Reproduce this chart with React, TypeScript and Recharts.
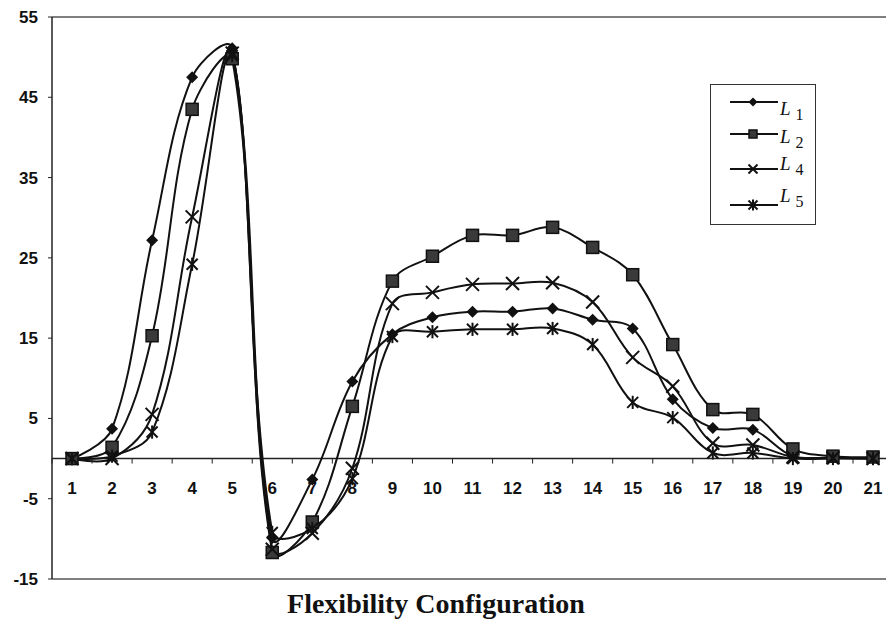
import React from 'react';
import {
  LineChart,
  Line,
  XAxis,
  YAxis,
  ReferenceLine,
  Legend,
} from 'recharts';

const configs = ['1', '2', '3', '4', '5', '6', '7', '8', '9', '10', '11', '12', '13', '14', '15', '16', '17', '18', '19', '20', '21'];
const l1 = [0, 3.7, 27.2, 47.5, 51.1, -9.9, -2.6, 9.6, 15.5, 17.6, 18.3, 18.3, 18.7, 17.3, 16.2, 7.4, 3.8, 3.6, 0.3, 0.1, 0];
const l2 = [0, 1.4, 15.3, 43.5, 49.8, -11.7, -7.9, 6.5, 22.1, 25.2, 27.8, 27.8, 28.8, 26.3, 22.9, 14.2, 6.1, 5.5, 1.2, 0.3, 0.2];
const l4 = [0, 0, 5.5, 30.1, 50.5, -11.3, -9.3, -1.2, 19.3, 20.7, 21.7, 21.8, 21.9, 19.5, 12.6, 9.0, 1.9, 1.7, 0.2, 0.1, 0];
const l5 = [0, 0.3, 3.3, 24.2, 50.2, -9.2, -8.7, -2.5, 15.2, 15.8, 16.1, 16.1, 16.2, 14.2, 7.0, 5.1, 0.7, 0.7, 0, 0, 0];
const yTicks = [-15, -5, 5, 15, 25, 35, 45, 55];
const seriesNames = { l1: '1', l2: '2', l4: '4', l5: '5' };

const data = configs.map((c, i) => ({ config: c, l1: l1[i], l2: l2[i], l4: l4[i], l5: l5[i] }));

// layout
const W = 900;
const H = 623;
const TOP = 17;
const BOTTOM = 43;
const X_AXIS_H = 1;
const PLOT_H = H - TOP - BOTTOM - X_AXIS_H;
const Y_MIN = -15;
const Y_MAX = 55;
const ZERO_Y = TOP + (PLOT_H * (Y_MAX - 0)) / (Y_MAX - Y_MIN);

const tickFont = { fontFamily: '"Liberation Sans", Arial, sans-serif', fontSize: 17, fontWeight: 'bold', fill: '#111' };

// Excel-like smoothed line: bezier arms scaled by neighbouring segment lengths
const excelCurve = (context: any) => {
  let pts: number[][] = [];
  const dist = (a: number[], b: number[]) => Math.hypot(b[0] - a[0], b[1] - a[1]) || 1;
  return {
    areaStart() {},
    areaEnd() {},
    lineStart() {
      pts = [];
    },
    lineEnd() {
      if (!pts.length) return;
      context.moveTo(pts[0][0], pts[0][1]);
      const k = 0.36;
      for (let i = 0; i < pts.length - 1; i++) {
        const p0 = pts[Math.max(0, i - 1)];
        const p1 = pts[i];
        const p2 = pts[i + 1];
        const p3 = pts[Math.min(pts.length - 1, i + 2)];
        const d01 = dist(p0, p1);
        const d12 = dist(p1, p2);
        const d23 = dist(p2, p3);
        const f1 = i === 0 ? 0 : (k * d12) / (d01 + d12);
        const f2 = i + 2 > pts.length - 1 ? 0 : (k * d12) / (d12 + d23);
        context.bezierCurveTo(
          p1[0] + (p2[0] - p0[0]) * f1,
          p1[1] + (p2[1] - p0[1]) * f1,
          p2[0] - (p3[0] - p1[0]) * f2,
          p2[1] - (p3[1] - p1[1]) * f2,
          p2[0],
          p2[1]
        );
      }
    },
    point(x: number, y: number) {
      pts.push([+x, +y]);
    },
  };
};

const Marker = ({ kind, cx, cy, s }: any) => {
  if (kind === 'l1') {
    return <polygon points={`${cx},${cy - s} ${cx + s},${cy} ${cx},${cy + s} ${cx - s},${cy}`} fill="#111" />;
  }
  if (kind === 'l2') {
    return <rect x={cx - s} y={cy - s} width={s * 2} height={s * 2} fill="#3a3a3a" stroke="#111" strokeWidth={1.5} />;
  }
  if (kind === 'l4') {
    return (
      <g stroke="#111" strokeWidth={2}>
        <line x1={cx - s} y1={cy - s} x2={cx + s} y2={cy + s} />
        <line x1={cx - s} y1={cy + s} x2={cx + s} y2={cy - s} />
      </g>
    );
  }
  return (
    <g stroke="#111" strokeWidth={2}>
      <line x1={cx - s} y1={cy - s} x2={cx + s} y2={cy + s} />
      <line x1={cx - s} y1={cy + s} x2={cx + s} y2={cy - s} />
      <line x1={cx} y1={cy - s * 1.2} x2={cx} y2={cy + s * 1.2} />
    </g>
  );
};

const makeDot = (kind: string, s: number) => (props: any) => {
  const { cx, cy, index } = props;
  if (cx == null || cy == null) return <g key={`${kind}-${index}`} />;
  return (
    <g key={`${kind}-${index}`}>
      <Marker kind={kind} cx={cx} cy={cy} s={s} />
    </g>
  );
};

const XTick = (props: any) => {
  const { x, payload, index } = props;
  return (
    <g>
      <line x1={x - 20} y1={ZERO_Y} x2={x - 20} y2={ZERO_Y + 5} stroke="#222" />
      {index === configs.length - 1 && <line x1={x + 20} y1={ZERO_Y} x2={x + 20} y2={ZERO_Y + 5} stroke="#222" />}
      <text x={x} y={ZERO_Y + 35} textAnchor="middle" {...tickFont}>
        {payload.value}
      </text>
    </g>
  );
};

const renderLegend = (props: any) => {
  const { payload } = props;
  const rows = [18, 50, 85, 121];
  return (
    <svg width={106} height={141}>
      <rect x={0.5} y={0.5} width={105} height={140} fill="#fff" stroke="#333" strokeWidth={1} />
      {payload.map((entry: any, i: number) => {
        const key = entry.dataKey as string;
        const y = rows[i];
        const ty = key === 'l1' ? y + 13 : key === 'l2' ? y + 9 : key === 'l4' ? y + 1 : y - 3;
        return (
          <g key={key}>
            <line x1={20} y1={y} x2={68} y2={y} stroke="#111" strokeWidth={2} />
            <Marker kind={key} cx={43} cy={y} s={key === 'l2' ? 4 : 4.5} />
            <text x={70} y={ty} fontFamily='"Liberation Serif", "Times New Roman", serif' fontSize={19} fill="#111">
              <tspan fontStyle="italic">L</tspan>
              <tspan dx={5} dy={5} fontSize={16}>
                {(seriesNames as any)[key]}
              </tspan>
            </text>
          </g>
        );
      })}
    </svg>
  );
};

export default function App() {
  return (
    <div style={{ position: 'absolute', left: 0, top: 0, width: 886, height: 623, overflow: 'hidden', background: '#fff' }}>
      <LineChart width={W} height={H} data={data} margin={{ top: TOP, right: 7, left: 0, bottom: BOTTOM }}>
        <XAxis
          dataKey="config"
          height={X_AXIS_H}
          padding={{ left: 20, right: 20 }}
          axisLine={{ stroke: '#555', strokeWidth: 1.5 }}
          tickLine={false}
          tick={<XTick />}
          interval={0}
        />
        <YAxis
          width={52}
          domain={[Y_MIN, Y_MAX]}
          ticks={yTicks}
          interval={0}
          axisLine={{ stroke: '#222', strokeWidth: 1.5 }}
          tickLine={{ stroke: '#222' }}
          tickSize={4}
          tickMargin={10}
          tick={tickFont}
        />
        <ReferenceLine y={Y_MAX} stroke="#555" strokeWidth={1.5} />
        <ReferenceLine y={0} stroke="#222" strokeWidth={1.5} />
        <Line dataKey="l1" name="L1" type={excelCurve as any} stroke="#111" strokeWidth={2} dot={makeDot('l1', 6)} isAnimationActive={false} />
        <Line dataKey="l2" name="L2" type={excelCurve as any} stroke="#111" strokeWidth={2} dot={makeDot('l2', 6)} isAnimationActive={false} />
        <Line dataKey="l4" name="L4" type={excelCurve as any} stroke="#111" strokeWidth={2} dot={makeDot('l4', 6.5)} isAnimationActive={false} />
        <Line dataKey="l5" name="L5" type={excelCurve as any} stroke="#111" strokeWidth={2} dot={makeDot('l5', 5.5)} isAnimationActive={false} />
        <Legend
          layout="vertical"
          align="center"
          verticalAlign="middle"
          content={renderLegend}
          wrapperStyle={{ position: 'absolute', left: 710, top: 84, width: 106, height: 141 }}
        />
      </LineChart>
      <div
        style={{
          position: 'absolute',
          left: 0,
          width: 872,
          top: 590,
          lineHeight: '28px',
          textAlign: 'center',
          fontFamily: '"Liberation Serif", "Times New Roman", serif',
          fontWeight: 'bold',
          fontSize: 28,
          color: '#111',
        }}
      >
        Flexibility Configuration
      </div>
    </div>
  );
}
